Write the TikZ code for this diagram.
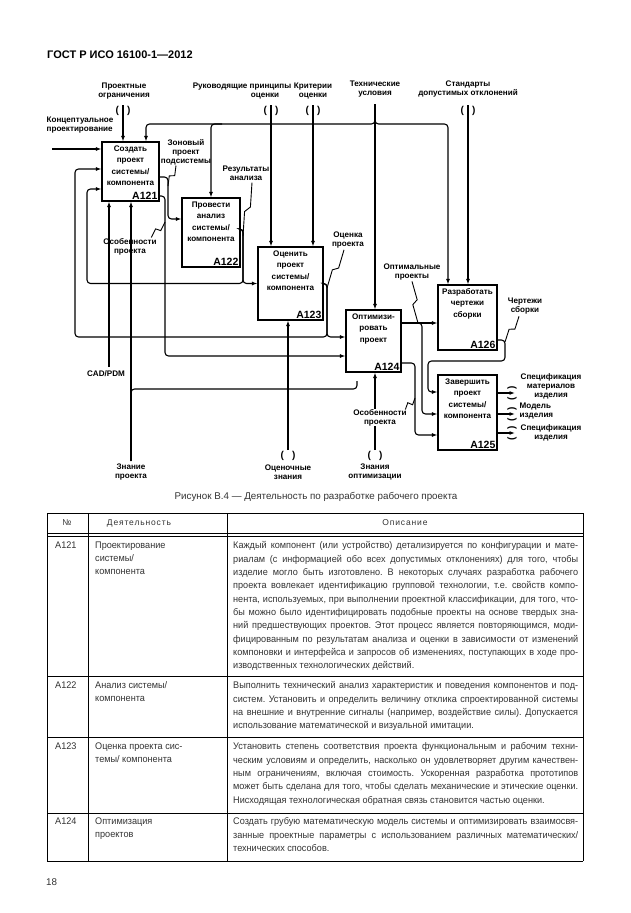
\documentclass[tikz,border=0pt]{standalone}
\usepackage{fontspec}
\setmainfont{Liberation Sans}
\newfontfamily\tabfam[FakeStretch=0.95]{Liberation Sans}
\usetikzlibrary{arrows.meta,positioning,calc}
\frenchspacing

\newcommand{\lblfont}{\bfseries\fontsize{8.1}{9}\selectfont}
\newcommand{\boxfont}{\bfseries\fontsize{8.1}{11.4}\selectfont}
\newcommand{\idfont}{\bfseries\fontsize{10.5}{12}\selectfont}
\newcommand{\tabfont}{\tabfam\fontsize{9.6}{13.33}\selectfont}
\newcommand{\jl}[1]{\makebox[345pt][s]{#1}}

\begin{document}
\begin{tikzpicture}[
        x=1pt, y=-1pt,
        act/.style={draw, line width=1.1pt, inner sep=0pt},
        boxtxt/.style={font=\boxfont, align=center, inner sep=0pt},
        idtxt/.style={font=\idfont, anchor=south east, inner sep=2pt},
        lbl/.style={font=\lblfont, align=center, inner sep=0.5pt},
        ln/.style={line width=1.1pt, rounded corners=3.5pt},
        arr/.style={ln, -{Latex[length=5.5pt,width=4pt]}},
        tun/.style={font=\bfseries\fontsize{10}{10}\selectfont, inner sep=0pt},
        squig/.style={line width=0.9pt, to path={-- ($(\tikztostart)!0.45!(\tikztotarget)!2.5pt!90:(\tikztotarget)$) -- ($(\tikztostart)!0.55!(\tikztotarget)!2.5pt!-90:(\tikztotarget)$) -- (\tikztotarget)}},
        tline/.style={line width=0.7pt},
        tab/.style={font=\tabfont, text=black!80, anchor=north west, align=left, inner sep=0pt}
    ]
    \useasboundingbox[fill=white] (0,0) rectangle (630,913);

    \node[font=\bfseries\fontsize{11}{12}\selectfont, anchor=west, inner sep=0pt] (head) at (47,55) {ГОСТ Р ИСО 16100-1—2012};

    % activity boxes
    \node[act, minimum width=57pt, minimum height=59pt] (a121) at (130.5,171.5) {};
    \node[act, minimum width=58pt, minimum height=69pt] (a122) at (211,232.5) {};
    \node[act, minimum width=65pt, minimum height=73pt] (a123) at (290.5,283.5) {};
    \node[act, minimum width=55pt, minimum height=62pt] (a124) at (373.5,341) {};
    \node[act, minimum width=59pt, minimum height=65pt] (a126) at (467.5,317.5) {};
    \node[act, minimum width=59pt, minimum height=75pt] (a125) at (467.5,412.5) {};

    \node[boxtxt, below=4pt of a121.north] (t121) {Создать\\проект\\системы/\\компонента};
    \node[boxtxt, below=4pt of a122.north] (t122) {Провести\\анализ\\системы/\\компонента};
    \node[boxtxt, below=4pt of a123.north] (t123) {Оценить\\проект\\системы/\\компонента};
    \node[boxtxt, below=4pt of a124.north] (t124) {Оптимизи-\\ровать\\проект};
    \node[boxtxt, below=4pt of a126.north] (t126) {Разработать\\чертежи\\сборки};
    \node[boxtxt, below=4pt of a125.north] (t125) {Завершить\\проект\\системы/\\компонента};
    \node[idtxt] (n121) at (a121.south east) {A121};
    \node[idtxt] (n122) at (a122.south east) {A122};
    \node[idtxt] (n123) at (a123.south east) {A123};
    \node[idtxt] (n124) at (a124.south east) {A124};
    \node[idtxt] (n126) at (a126.south east) {A126};
    \node[idtxt] (n125) at (a125.south east) {A125};

    % arrow labels
    \node[lbl, align=left, anchor=west] (lconc) at (46,125.5) {Концептуальное\\проектирование};
    \node[lbl] (logr) at (124,91) {Проектные\\ограничения};
    \node[lbl, align=right] (lruk) at (242,91) {Руководящие принципы\\оценки\hspace*{12pt}};
    \node[lbl] (lkrit) at (313,91) {Критерии\\оценки};
    \node[lbl] (lteh) at (375,89.5) {Технические\\условия};
    \node[lbl] (lstd) at (468,89.5) {Стандарты\\допустимых отклонений};
    \node[lbl] (lzon) at (186,152) {Зоновый\\проект\\подсистемы};
    \node[lbl] (lres) at (246,173.5) {Результаты\\анализа};
    \node[lbl] (locp) at (348,240) {Оценка\\проекта};
    \node[lbl] (losb1) at (130,246.5) {Особенности\\проекта};
    \node[lbl] (lopt) at (412,272.5) {Оптимальные\\проекты};
    \node[lbl] (lchert) at (525,306.5) {Чертежи\\сборки};
    \node[lbl] (lspm) at (551,386) {Спецификация\\материалов\\изделия};
    \node[lbl, align=left, anchor=west] (lmod) at (519,411.5) {Модель\\изделия};
    \node[lbl] (lspi) at (551,432.5) {Спецификация\\изделия};
    \node[lbl] (lcad) at (106,374) {CAD/PDM};
    \node[lbl] (lzn) at (131,472) {Знание\\проекта};
    \node[lbl] (locz) at (288,472) {Оценочные\\знания};
    \node[lbl] (lznopt) at (375,472) {Знания\\оптимизации};

    % free ends and bends
    \coordinate (ogr) at (123,105);
    \coordinate (ruk) at (271,105);
    \coordinate (krit) at (313,105);
    \coordinate (teh) at (375,104);
    \coordinate (std) at (468,105);
    \coordinate (konc) at (52,149);
    \coordinate (cad) at (109,367);
    \coordinate (zn) at (131,461);
    \coordinate (ocz) at (288,450);
    \coordinate (znopt) at (375,450);
    \coordinate (tl) at (146,124);
    \coordinate (tr) at (448,124);
    \coordinate (tb) at (222,124);
    \coordinate (b1) at (168,177);
    \coordinate (b1e) at (168,219);
    \coordinate (b2) at (165,196);
    \coordinate (b2e) at (165,356);
    \coordinate (b3) at (243,229);
    \coordinate (b3e) at (243,283.5);
    \coordinate (b3l) at (87,189);
    \coordinate (b4) at (327,283.5);
    \coordinate (b4e) at (327,337);
    \coordinate (b4l) at (75,169);
    \coordinate (b5) at (422,323);
    \coordinate (b5e) at (422,414);
    \coordinate (b6) at (415,363);
    \coordinate (b6e) at (415,435);
    \coordinate (b7) at (505,340);
    \coordinate (b7d) at (505,361);
    \coordinate (b7l) at (428,361);
    \coordinate (b7e) at (428,392);
    \coordinate (b8e) at (357,389);
    \coordinate (b8t) at (357,381);
    \coordinate (q1) at (515,393);
    \coordinate (q2) at (515,414);
    \coordinate (q3) at (515,433);

    \foreach \p in {ogr,ruk,krit,std}
        \node[tun] at ($(\p)+(0,6)$) {(\hspace{8pt})};
    \foreach \p in {ocz,znopt}
        \node[tun] at ($(\p)+(0,6)$) {(\hspace{8pt})};

    % controls and inputs
    \draw[arr] (ogr) -- (ogr |- a121.north);
    \draw[arr] (konc) -- (konc -| a121.west);
    \draw[arr] (ruk) -- (ruk |- a123.north);
    \draw[arr] (krit) -- (krit |- a123.north);
    \draw[arr] (std) -- (std |- a126.north);
    \draw[arr] (teh) -- (teh |- a124.north);
    \draw[arr] (teh) |- (tl) -- (tl |- a121.north);
    \draw[arr] (teh) |- (tr) -- (tr |- a126.north);
    \draw[arr] (tb) -| (a122.north);

    % outputs and feedback
    \draw[arr] (b1 -| a121.east) -- (b1) -- (b1e) -- (b1e -| a122.west);
    \draw[arr] (b2 -| a121.east) -- (b2) -- (b2e) -- (b2e -| a124.west);
    \draw[arr] (b3 -| a122.east) -- (b3) -- (b3e) -- (a123.west);
    \draw[arr] (b3 -| a122.east) -- (b3) -- (b3e) -| (b3l) -- (b3l -| a121.west);
    \draw[arr] (a123.east) -- (b4) -- (b4e) -- (b4e -| a124.west);
    \draw[arr] (a123.east) -- (b4) -- (b4e) -| (b4l) -- (b4l -| a121.west);
    \draw[arr] (b5 -| a124.east) -- (b5 -| a126.west);
    \draw[arr] (b5 -| a124.east) -- (b5) -- (b5e) -- (b5e -| a125.west);
    \draw[arr] (b6 -| a124.east) -- (b6) -- (b6e) -- (b6e -| a125.west);
    \draw[arr] (b7 -| a126.east) -- (b7) -- (b7d) -- (b7l) -- (b7e) -- (b7e -| a125.west);
    \foreach \q in {q1,q2,q3} {
        \draw[arr] (\q -| a125.east) -- (\q);
        \node[tun, rotate=90] at ($(\q)+(-3,0)$) {(\hspace{8pt})};
    }

    % mechanisms
    \draw[arr] (cad) -- (cad |- a121.south);
    \draw[arr] (zn) -- (zn |- a121.south);
    \draw[ln] (zn) |- (b8e) -- (b8t);
    \draw[arr] (ocz) -- (ocz |- a123.south);
    \draw[arr] (znopt) -- (znopt |- a124.south);
    \node[lbl, fill=white] (losb2) at (380,417.5) {Особенности\\проекта};

    % squiggles
    \draw[squig] ($(lzon.south)+(-10,0)$) to (168,186);
    \draw[squig] ($(lres.south)+(6,1)$) to (243,236);
    \draw[squig] ($(locp.south)+(-4,1)$) to (327,288);
    \draw[squig] ($(losb1.north east)+(-6,0)$) to (165,222);
    \draw[squig] (lopt.south) to (418,323);
    \draw[squig] ($(losb2.north east)+(-2,1)$) to (415,398);
    \draw[squig] ($(lchert.south)+(-6,1)$) to (505,342);

    \node[font=\fontsize{9.8}{11}\selectfont, text=black!80] (cap) at (316,497) {Рисунок В.4 — Деятельность по разработке рабочего проекта};

    % table
    \draw[tline] (47,513) -- (583,513);
    \draw[tline] (47,533) -- (583,533);
    \draw[tline] (47,536.5) -- (583,536.5);
    \foreach \yy in {676,737,813,861}
        \draw[tline] (47,\yy) -- (583,\yy);
    \foreach \xx in {47,88,227,583}
        \draw[tline] (\xx,513) -- (\xx,861);

    \node[font=\fontsize{8.5}{9}\selectfont, text=black!80] (hno) at (67,523) {№};
    \node[font=\fontsize{8.5}{9}\selectfont\addfontfeature{LetterSpace=10}, text=black!80] (hact) at (139,523) {Деятельность};
    \node[font=\fontsize{8.5}{9}\selectfont\addfontfeature{LetterSpace=10}, text=black!80] (hdesc) at (405,523) {Описание};

    \node[tab] (i121) at (55,541.5) {A121};
    \node[tab] (i122) at (55,681.5) {A122};
    \node[tab] (i123) at (55,742.5) {A123};
    \node[tab] (i124) at (55,817.5) {A124};

    \node[tab] (w121) at (95,541.5) {Проектирование\\системы/\\компонента};
    \node[tab] (w122) at (95,681.5) {Анализ системы/\\компонента};
    \node[tab] (w123) at (95,742.5) {Оценка проекта сис-\\темы/ компонента};
    \node[tab] (w124) at (95,817.5) {Оптимизация\\проектов};

    \node[tab] (d121) at (233,541.5) {\jl{Каждый компонент (или устройство) детализируется по конфигурации и мате-}\\
        \jl{риалам (с информацией обо всех допустимых отклонениях) для того, чтобы}\\
        \jl{изделие могло быть изготовлено. В некоторых случаях разработка рабочего}\\
        \jl{проекта вовлекает идентификацию групповой технологии, т.е. свойств компо-}\\
        \jl{нента, используемых, при выполнении проектной классификации, для того, что-}\\
        \jl{бы можно было идентифицировать подобные проекты на основе твердых зна-}\\
        \jl{ний предшествующих проектов. Этот процесс является повторяющимся, моди-}\\
        \jl{фицированным по результатам анализа и оценки в зависимости от изменений}\\
        \jl{компоновки и интерфейса и запросов об изменениях, поступающих в ходе про-}\\
        изводственных технологических действий.};
    \node[tab] (d122) at (233,681.5) {\jl{Выполнить технический анализ характеристик и поведения компонентов и под-}\\
        \jl{систем. Установить и определить величину отклика спроектированной системы}\\
        \jl{на внешние и внутренние сигналы (например, воздействие силы). Допускается}\\
        использование математической и визуальной имитации.};
    \node[tab] (d123) at (233,742.5) {\jl{Установить степень соответствия проекта функциональным и рабочим техни-}\\
        \jl{ческим условиям и определить, насколько он удовлетворяет другим качествен-}\\
        \jl{ным ограничениям, включая стоимость. Ускоренная разработка прототипов}\\
        \jl{может быть сделана для того, чтобы сделать механические и этические оценки.}\\
        Нисходящая технологическая обратная связь становится частью оценки.};
    \node[tab] (d124) at (233,817.5) {\jl{Создать грубую математическую модель системы и оптимизировать взаимосвя-}\\
        \jl{занные проектные параметры с использованием различных математических/}\\
        технических способов.};

    \node[font=\fontsize{9.8}{11}\selectfont, text=black!80, anchor=west, inner sep=0pt] (page) at (46,882) {18};
\end{tikzpicture}
\end{document}
